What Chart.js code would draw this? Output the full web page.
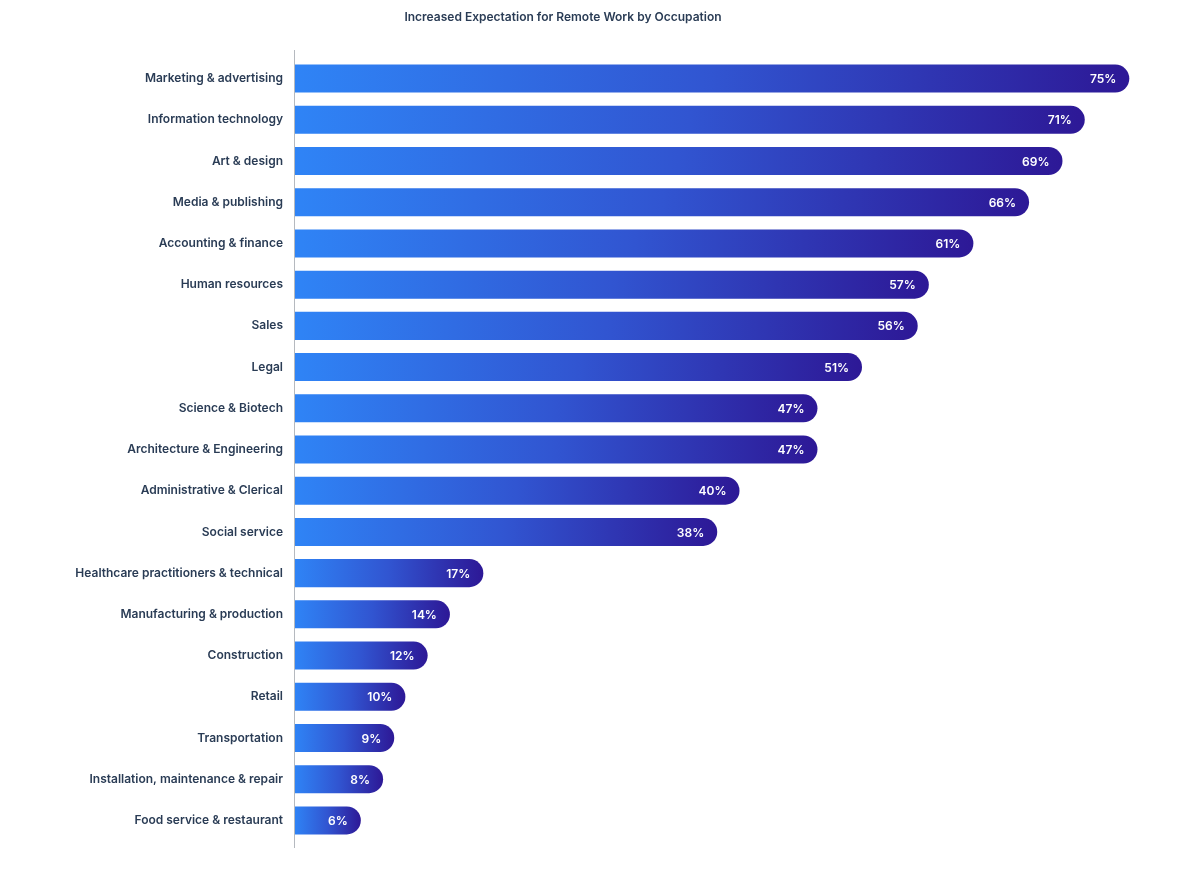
<!DOCTYPE html>
<html>
<head>
<meta charset="utf-8">
<script src="https://cdn.jsdelivr.net/npm/chart.js@4/dist/chart.umd.min.js"></script>
<style>
  html, body { margin: 0; padding: 0; background: #fff; }
  #wrap { width: 1198px; height: 874px; position: relative; }
</style>
</head>
<body>
<div id="wrap"><canvas id="myChart"></canvas></div>
<script>
const chartTitle = 'Increased Expectation for Remote Work by Occupation';

const occupations = [
    'Marketing & advertising',
    'Information technology',
    'Art & design',
    'Media & publishing',
    'Accounting & finance',
    'Human resources',
    'Sales',
    'Legal',
    'Science & Biotech',
    'Architecture & Engineering',
    'Administrative & Clerical',
    'Social service',
    'Healthcare practitioners & technical',
    'Manufacturing & production',
    'Construction',
    'Retail',
    'Transportation',
    'Installation, maintenance & repair',
    'Food service & restaurant'
];

const remoteShare = [75, 71, 69, 66, 61, 57, 56, 51, 47, 47, 40, 38, 17, 14, 12, 10, 9, 8, 6];

const textColor = '#2a3c55';
const fontFamily = 'Inter, "Noto Sans", sans-serif';

// gradient runs along each bar, from its base to its end
function barGradient(ctx) {
    const chart = ctx.chart;
    if (!chart.chartArea || !chart.scales.x) return '#3156d2';
    const x = chart.scales.x;
    const x0 = x.getPixelForValue(0);
    const x1 = x.getPixelForValue(ctx.raw);
    const g = chart.ctx.createLinearGradient(x0, 0, x1, 0);
    g.addColorStop(0, '#2f84f6');
    g.addColorStop(0.5, '#3155d1');
    g.addColorStop(1, '#2d1896');
    return g;
}

// title, y axis line and value labels
const extras = {
    id: 'extras',
    afterDatasetsDraw(chart) {
        const c = chart.ctx;
        const area = chart.chartArea;
        c.save();

        c.strokeStyle = '#b5b9bf';
        c.lineWidth = 1;
        c.beginPath();
        c.moveTo(Math.round(area.left) + 0.5, area.top - 8);
        c.lineTo(Math.round(area.left) + 0.5, area.bottom + 7);
        c.stroke();

        c.fillStyle = textColor;
        c.font = '600 12px ' + fontFamily;
        c.textAlign = 'center';
        c.textBaseline = 'middle';
        c.fillText(chartTitle, 563, 17);

        const meta = chart.getDatasetMeta(0);
        c.fillStyle = '#ffffff';
        c.font = '600 12px ' + fontFamily;
        c.textAlign = 'right';
        meta.data.forEach((bar, i) => {
            c.fillText(remoteShare[i] + '%', bar.x - 13, bar.y + 1);
        });
        c.restore();
    }
};

const ctx = document.getElementById('myChart').getContext('2d');
const myChart = new Chart(ctx, {
    type: 'bar',
    data: {
        labels: occupations,
        datasets: [{
            data: remoteShare,
            backgroundColor: barGradient,
            borderWidth: 0,
            borderRadius: 14,
            borderSkipped: 'start',
            barPercentage: 0.68,
            categoryPercentage: 1
        }]
    },
    options: {
        indexAxis: 'y',
        responsive: true,
        maintainAspectRatio: false,
        animation: false,
        layout: {
            padding: { top: 58, bottom: 33, left: 0, right: 13 }
        },
        plugins: {
            legend: { display: false },
            title: { display: false },
            tooltip: { enabled: false }
        },
        scales: {
            x: {
                min: 0,
                max: 80,
                display: false,
                grid: { display: false }
            },
            y: {
                afterFit(scale) { scale.width = 294; },
                grid: { display: false, drawTicks: false },
                border: { display: false },
                ticks: {
                    color: textColor,
                    padding: 11,
                    font: { family: fontFamily, size: 12, weight: '600' }
                }
            }
        }
    },
    plugins: [extras]
});
</script>
</body>
</html>
